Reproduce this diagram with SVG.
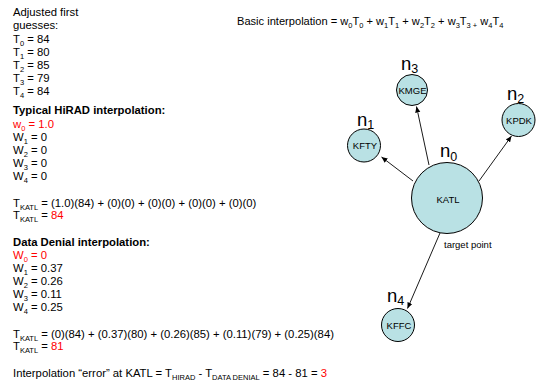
<svg xmlns="http://www.w3.org/2000/svg" width="537" height="384" viewBox="0 0 537 384">
<style>
text{font-family:"Liberation Sans",Arial,sans-serif;fill:#000}
.t{font-size:11.3px}
.b{font-weight:bold}
.r{fill:#ff0000}
.s{font-size:7.5px}
.node{fill:#b9e1e4;stroke:#000;stroke-width:1}
.nl{font-size:9.5px;text-anchor:middle}
.nn{font-size:18.5px}
.ns{font-size:12.5px}
.conn{stroke:#000;stroke-width:0.9;fill:none;marker-end:url(#ah)}
</style>
<defs>
<marker id="ah" markerUnits="userSpaceOnUse" markerWidth="7" markerHeight="6" refX="6" refY="3" orient="auto">
<path d="M0,0.4 L6,3 L0,5.6 z" fill="#000"/>
</marker>
</defs>
<rect width="537" height="384" fill="#fff"/>

<g id="left-text" class="t">
<text class="t" x="13" y="16">Adjusted first</text>
<text class="t" x="13" y="29">guesses:</text>
<text class="t" x="13" y="43">T<tspan class="s" dy="2.5">0</tspan><tspan dy="-2.5"> = 84</tspan></text>
<text class="t" x="13" y="56">T<tspan class="s" dy="2.5">1</tspan><tspan dy="-2.5"> = 80</tspan></text>
<text class="t" x="13" y="69">T<tspan class="s" dy="2.5">2</tspan><tspan dy="-2.5"> = 85</tspan></text>
<text class="t" x="13" y="82">T<tspan class="s" dy="2.5">3</tspan><tspan dy="-2.5"> = 79</tspan></text>
<text class="t" x="13" y="95">T<tspan class="s" dy="2.5">4</tspan><tspan dy="-2.5"> = 84</tspan></text>

<text class="t b" x="13" y="114">Typical HiRAD interpolation:</text>
<text class="t r" x="13" y="128">w<tspan class="s" dy="2.5">0</tspan><tspan dy="-2.5"> = 1.0</tspan></text>
<text class="t" x="13" y="141">W<tspan class="s" dy="2.5">1</tspan><tspan dy="-2.5"> = 0</tspan></text>
<text class="t" x="13" y="154">W<tspan class="s" dy="2.5">2</tspan><tspan dy="-2.5"> = 0</tspan></text>
<text class="t" x="13" y="167">W<tspan class="s" dy="2.5">3</tspan><tspan dy="-2.5"> = 0</tspan></text>
<text class="t" x="13" y="180">W<tspan class="s" dy="2.5">4</tspan><tspan dy="-2.5"> = 0</tspan></text>

<text class="t" x="13" y="207">T<tspan class="s" dy="2.5">KATL</tspan><tspan dy="-2.5"> = (1.0)(84) + (0)(0) + (0)(0) + (0)(0) + (0)(0)</tspan></text>
<text class="t" x="13" y="219">T<tspan class="s" dy="2.5">KATL</tspan><tspan dy="-2.5"> = </tspan><tspan class="r">84</tspan></text>

<text class="t b" x="13" y="246">Data Denial interpolation:</text>
<text class="t r" x="13" y="259">W<tspan class="s" dy="2.5">0</tspan><tspan dy="-2.5"> = 0</tspan></text>
<text class="t" x="13" y="272">W<tspan class="s" dy="2.5">1</tspan><tspan dy="-2.5"> = 0.37</tspan></text>
<text class="t" x="13" y="285">W<tspan class="s" dy="2.5">2</tspan><tspan dy="-2.5"> = 0.26</tspan></text>
<text class="t" x="13" y="298">W<tspan class="s" dy="2.5">3</tspan><tspan dy="-2.5"> = 0.11</tspan></text>
<text class="t" x="13" y="311">W<tspan class="s" dy="2.5">4</tspan><tspan dy="-2.5"> = 0.25</tspan></text>

<text class="t" x="13" y="338">T<tspan class="s" dy="2.5">KATL</tspan><tspan dy="-2.5"> = (0)(84) + (0.37)(80) + (0.26)(85) + (0.11)(79) + (0.25)(84)</tspan></text>
<text class="t" x="13" y="350">T<tspan class="s" dy="2.5">KATL</tspan><tspan dy="-2.5"> = </tspan><tspan class="r">81</tspan></text>

<text class="t" x="13" y="377">Interpolation “error” at KATL = T<tspan class="s" dy="2.5">HIRAD</tspan><tspan dy="-2.5"> - T</tspan><tspan class="s" dy="2.5">DATA DENIAL</tspan><tspan dy="-2.5"> = 84 - 81 = </tspan><tspan class="r">3</tspan></text>
</g>

<text class="t" x="237" y="25" style="font-size:11.1px">Basic interpolation = w<tspan class="s" dy="2.5">0</tspan><tspan dy="-2.5">T</tspan><tspan class="s" dy="2.5">0</tspan><tspan dy="-2.5"> + w</tspan><tspan class="s" dy="2.5">1</tspan><tspan dy="-2.5">T</tspan><tspan class="s" dy="2.5">1</tspan><tspan dy="-2.5"> + w</tspan><tspan class="s" dy="2.5">2</tspan><tspan dy="-2.5">T</tspan><tspan class="s" dy="2.5">2</tspan><tspan dy="-2.5"> + w</tspan><tspan class="s" dy="2.5">3</tspan><tspan dy="-2.5">T</tspan><tspan class="s" dy="2.5">3 +</tspan><tspan dy="-2.5"> w</tspan><tspan class="s" dy="2.5">4</tspan><tspan dy="-2.5">T</tspan><tspan class="s" dy="2.5">4</tspan></text>

<g id="connectors">
<line class="conn" x1="413" y1="181" x2="381.5" y2="157"/>
<line class="conn" x1="429" y1="165" x2="416.5" y2="106.5"/>
<line class="conn" x1="479" y1="181" x2="511.5" y2="136"/>
<line class="conn" x1="440" y1="233" x2="407.5" y2="308.5"/>
</g>

<g id="n0-KATL">
<circle class="node" cx="447" cy="198" r="35.5"/>
<text class="nl" x="448" y="203">KATL</text>
<text class="nn" x="440" y="157">n<tspan class="ns" dy="4">0</tspan></text>
<text style="font-size:9.5px" x="444" y="248">target point</text>
</g>

<g id="n1-KFTY">
<circle class="node" cx="364" cy="145.5" r="16.5"/>
<text class="nl" x="365" y="149">KFTY</text>
<text class="nn" x="357" y="126">n<tspan class="ns" dy="3">1</tspan></text>
</g>

<g id="n3-KMGE">
<circle class="node" cx="412" cy="90" r="15.5"/>
<text class="nl" x="412.5" y="93.5">KMGE</text>
<text class="nn" x="401" y="70">n<tspan class="ns" dy="3">3</tspan></text>
</g>

<g id="n2-KPDK">
<circle class="node" cx="518.5" cy="120" r="16.5"/>
<text class="nl" x="519" y="123.5">KPDK</text>
<text class="nn" x="507" y="100">n<tspan class="ns" dy="3">2</tspan></text>
</g>

<g id="n4-KFFC">
<circle class="node" cx="398" cy="325" r="16.5"/>
<text class="nl" x="399" y="328.5">KFFC</text>
<text class="nn" x="387" y="302">n<tspan class="ns" dy="3">4</tspan></text>
</g>
</svg>
